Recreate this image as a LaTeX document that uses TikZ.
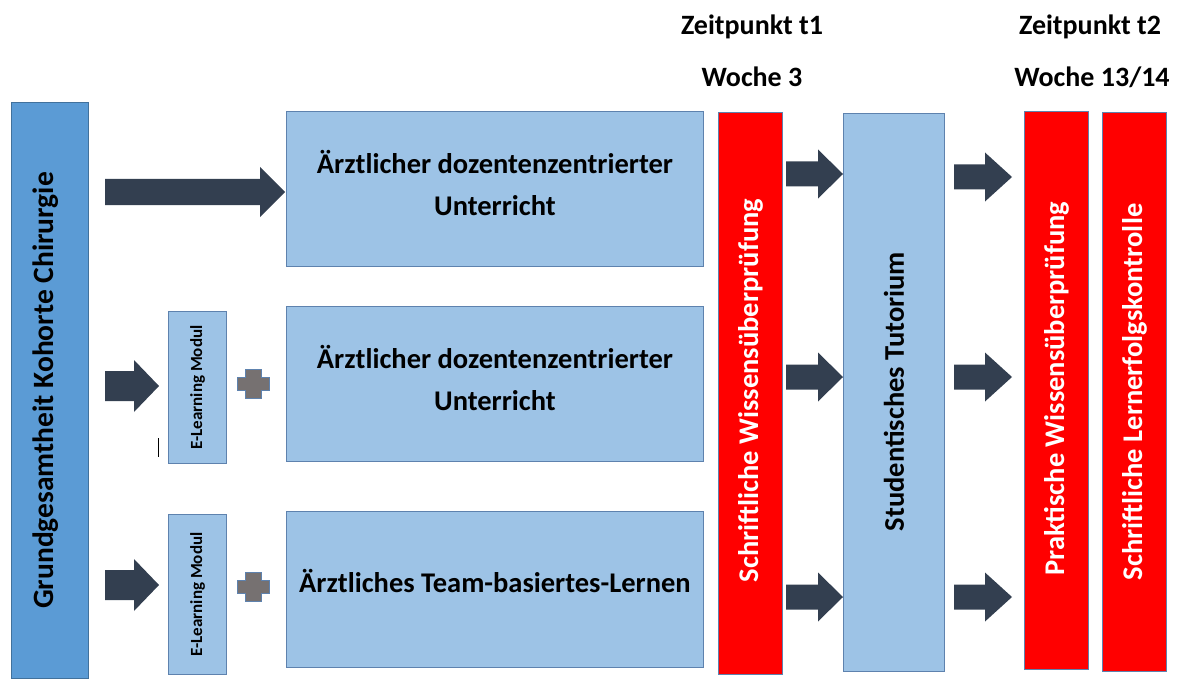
\documentclass[tikz,border=0pt]{standalone}
\usepackage{fontspec}
\setmainfont{Carlito}
\definecolor{lightblue}{HTML}{9DC3E6}
\definecolor{midblue}{HTML}{5B9BD5}
\definecolor{boxline}{HTML}{5E82AE}
\definecolor{darkline}{HTML}{41719C}
\definecolor{redbox}{HTML}{FF0000}
\definecolor{arrowcol}{HTML}{333F50}
\definecolor{plusgray}{HTML}{767171}
\newcommand\blockarr[6]{% tail x, head start x, tip x, center y, shaft half, head half
  \fill[arrowcol] (#1,#4-#5) -- (#2,#4-#5) -- (#2,#4-#6) -- (#3,#4) -- (#2,#4+#6) -- (#2,#4+#5) -- (#1,#4+#5) -- cycle;}
\newcommand\plusmark[2]{%
  \filldraw[fill=plusgray, draw=boxline, line width=0.8pt]
   (#1-16,#2-6) -- (#1-8,#2-6) -- (#1-8,#2-14) -- (#1+8,#2-14) -- (#1+8,#2-6) -- (#1+16,#2-6)
   -- (#1+16,#2+7) -- (#1+8,#2+7) -- (#1+8,#2+15) -- (#1-8,#2+15) -- (#1-8,#2+7) -- (#1-16,#2+7) -- cycle;}
\begin{document}
\begin{tikzpicture}[x=1pt,y=-1pt,
  rect/.style={draw=boxline, line width=1pt, inner sep=0pt, anchor=north west},
  lbox/.style={rect, fill=lightblue},
  rbox/.style={rect, fill=redbox},
  mbox/.style={rect, fill=midblue, draw=darkline},
  btext/.style={font=\bfseries\fontsize{28.5}{42}\selectfont, align=center},
  vtext/.style={font=\bfseries\fontsize{28.5}{32}\selectfont, rotate=90},
  stext/.style={font=\bfseries\fontsize{17}{20}\selectfont, rotate=90},
  head/.style={font=\bfseries\fontsize{28}{32}\selectfont}]
\useasboundingbox (0,0) rectangle (1185,679);
% left cohort box
\node[mbox, minimum width=77, minimum height=576] (coh) at (11,102) {};
\node[vtext, font=\bfseries\fontsize{29.5}{34}\selectfont] at ([xshift=-4pt]coh.center) {Grundgesamtheit Kohorte Chirurgie};
% main boxes
\node[lbox, minimum width=417, minimum height=155] (b1) at (286,111) {};
\node[btext] at ([yshift=6pt]b1.center) {Ärztlicher dozentenzentrierter\\Unterricht};
\node[lbox, minimum width=417, minimum height=155] (b2) at (286,306) {};
\node[btext] at ([yshift=6pt]b2.center) {Ärztlicher dozentenzentrierter\\Unterricht};
\node[lbox, minimum width=417, minimum height=156] (b3) at (286,511) {};
\node[btext] at ([yshift=9pt]b3.center) {Ärztliches Team-basiertes-Lernen};
% e-learning boxes
\node[lbox, minimum width=58, minimum height=152] (e1) at (168,311) {};
\node[stext] at (e1.center) {E-Learning Modul};
\node[lbox, minimum width=58, minimum height=160] (e2) at (168,514) {};
\node[stext] at (e2.center) {E-Learning Modul};
% red and tutorial columns
\node[rbox, minimum width=64, minimum height=562] (r1) at (718,112) {};
\node[vtext, text=white] at ([yshift=3pt]r1.center) {Schriftliche Wissensüberprüfung};
\node[lbox, minimum width=101, minimum height=558] (tut) at (843,113) {};
\node[vtext] at ([yshift=1pt]tut.center) {Studentisches Tutorium};
\node[rbox, minimum width=64, minimum height=558] (r2) at (1024,111) {};
\node[vtext, text=white] at ([yshift=2pt]r2.center) {Praktische Wissensüberprüfung};
\node[rbox, minimum width=64, minimum height=559] (r3) at (1102,112) {};
\node[vtext, text=white] at (r3.center) {Schriftliche Lernerfolgskontrolle};
% headings
\node[head] (h1) at (752,27) {Zeitpunkt t1};
\node[head] (w1) at (752,77) {Woche 3};
\node[head] (h2) at (1090,27) {Zeitpunkt t2};
\node[head] (w2) at (1092,77) {Woche 13/14};
% arrows
\blockarr{105}{260}{285}{192}{13}{25}
\blockarr{105}{134}{159}{386}{15}{26}
\blockarr{105}{134}{159}{585}{15}{26}
\blockarr{786}{818}{843}{174}{12.5}{24.5}
\blockarr{786}{818}{843}{377}{12.5}{24.5}
\blockarr{786}{818}{843}{597}{12.5}{24.5}
\blockarr{954}{985}{1012}{177}{12.5}{24.5}
\blockarr{954}{985}{1012}{377}{12.5}{24.5}
\blockarr{954}{985}{1012}{597}{12.5}{24.5}
% plus signs
\plusmark{253}{383}
\plusmark{253}{586}
% stray mark
\draw[line width=1pt] (158,438) -- (158,457);
\end{tikzpicture}
\end{document}
